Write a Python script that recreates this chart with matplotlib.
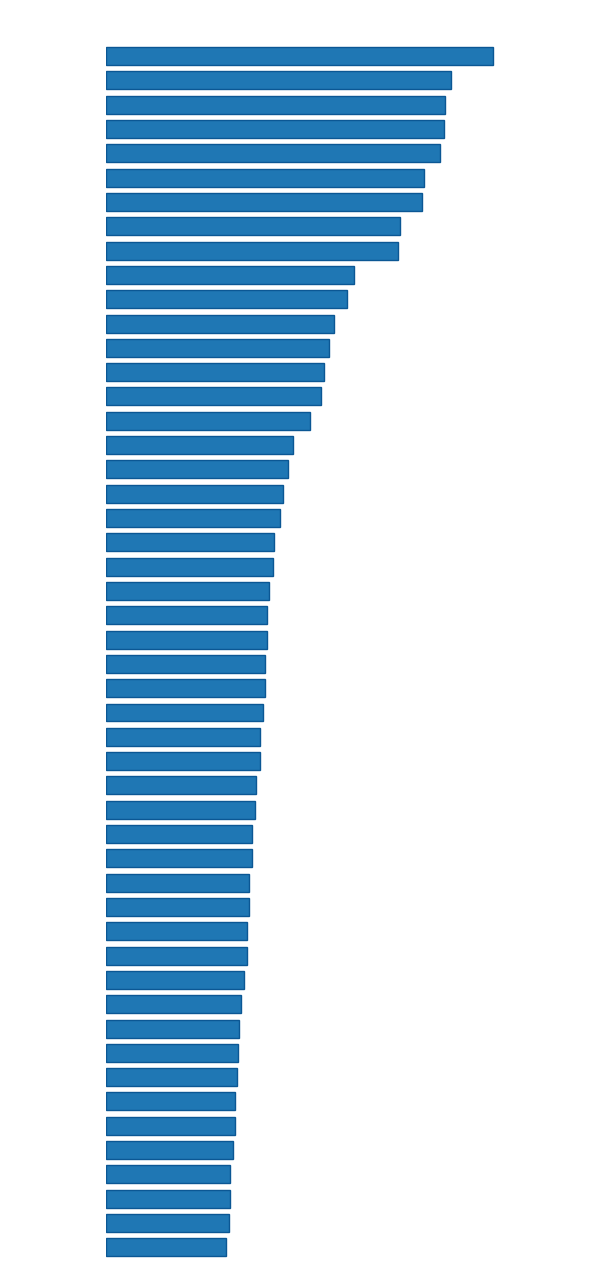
import matplotlib
matplotlib.use("Agg")
import matplotlib.pyplot as plt

# bar lengths, top to bottom
values = [387, 345, 339, 338, 334, 318, 316, 294, 292, 248,
          241, 228, 223, 218, 215, 204, 187, 182, 177, 174,
          168, 167, 163, 161, 161, 159, 159, 157, 154, 154,
          150, 149, 146, 146, 143, 143, 141, 141, 138, 135,
          133, 132, 131, 129, 129, 127, 124, 124, 123, 120]
positions = list(range(len(values)))

fig = plt.figure(figsize=(6, 12.82), dpi=100)
ax = fig.add_axes([106.0/600, 0.01568, 450/600, 0.9519])
ax.barh(positions, values, height=0.74, color='#1f77b4',
        edgecolor='#0b5794', linewidth=1.0)
ax.set_xlim(0, 450)
ax.set_ylim(49.6, -0.6)
ax.axis('off')

fig.savefig('out.png', dpi=100)
